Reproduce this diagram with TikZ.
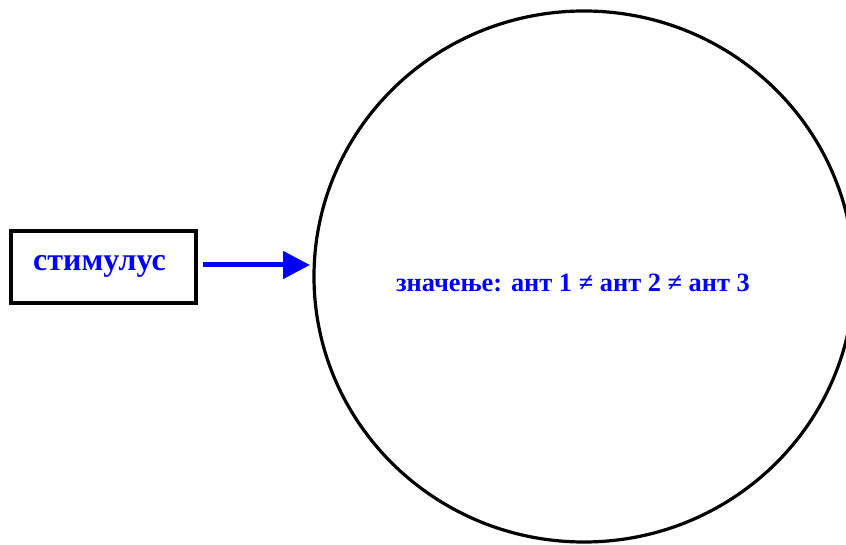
\documentclass[tikz,border=0pt]{standalone}
\usepackage{fontspec}
\setmainfont{Liberation Serif}
\usetikzlibrary{arrows.meta,shapes.geometric}
\definecolor{pureblue}{RGB}{0,0,255}
\tikzset{
  lbl/.style={text=pureblue, font=\bfseries},
  boxnode/.style={draw=black, line width=4pt, minimum width=185pt, minimum height=72pt, inner sep=0pt},
  bigcirc/.style={draw=black, line width=3.2pt, ellipse, minimum width=540pt, minimum height=531pt, inner sep=0pt},
  flow/.style={draw=pureblue, line width=5pt, -{Triangle[length=27pt,width=27pt]}}
}
\begin{document}
\begin{tikzpicture}[x=1pt,y=1pt]
\useasboundingbox (0,0) rectangle (846,544);
\node[boxnode] (stim) at (103.5,277) {};
\node[lbl, font=\bfseries\fontsize{32}{36}\selectfont] (stimtext) at (99.5,278) {стимулус};
\node[bigcirc] (mean) at (584,267.5) {};
\node[lbl, font=\bfseries\fontsize{26.4}{30}\selectfont] (meantext) at (573,261) {значење: ант 1 ≠ ант 2 ≠ ант 3};
\coordinate (a0) at (203,279);
\coordinate (a1) at (310,279);
\draw[flow] (a0) -- (a1);
\end{tikzpicture}
\end{document}
